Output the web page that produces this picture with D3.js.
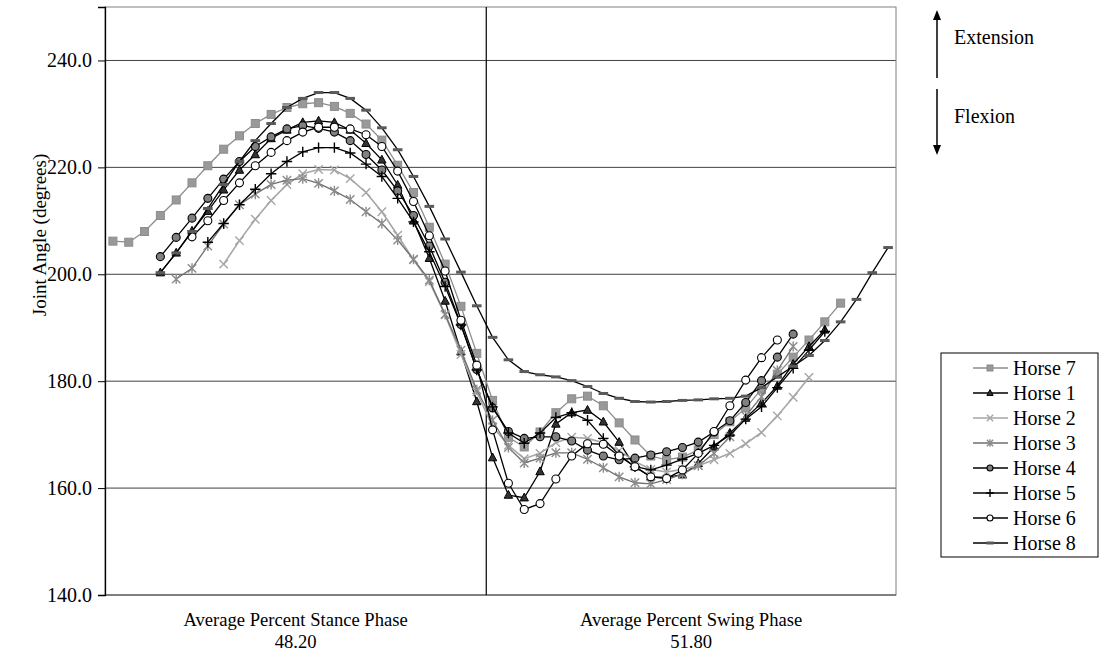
<!DOCTYPE html>
<html>
<head>
<meta charset="utf-8">
<script src="https://d3js.org/d3.v7.min.js"></script>
<style>
  body { margin: 0; background: #fff; }
  text { font-family: "Liberation Serif", "Times New Roman", serif; fill: #000; }
</style>
</head>
<body>
<svg id="chart" width="1099" height="658"></svg>
<script>
// x index i = 2% bin of the stride, point drawn at bin centre (2*i + 1 %)
var phaseLabels = ["Average Percent Stance Phase", "Average Percent Swing Phase"];
var phasePercents = ["48.20", "51.80"];
var stancePercent = 48.2;
var yTicks = [140, 160, 180, 200, 220, 240];
var horseNames = ["Horse 7", "Horse 1", "Horse 2", "Horse 3", "Horse 4", "Horse 5", "Horse 6", "Horse 8"];

var horse7 = [206.2, 206.0, 208.0, 211.0, 213.9, 217.1, 220.3, 223.4, 225.9, 228.2,
  229.9, 231.2, 231.9, 232.1, 231.4, 230.1, 228.1, 225.1, 220.4, 215.3,
  208.8, 201.9, 194.0, 185.2, 176.4, 169.5, 167.7, 170.5, 174.1, 176.7,
  177.2, 175.4, 172.2, 169.0, 166.0, 165.3, 165.8, 167.1, 170.0, 172.4,
  175.0, 178.5, 181.3, 184.5, 187.7, 191.1, 194.6];
var horse1 = [null, null, null, 200.3, 204.0, 208.1, 211.8, 215.8, 219.5, 222.4,
  225.4, 227.0, 228.4, 228.7, 228.4, 227.0, 224.5, 221.4, 216.7, 210.0,
  203.0, 195.0, 185.5, 176.2, 165.7, 158.7, 158.2, 163.1, 172.0, 174.1,
  174.6, 172.4, 168.6, 164.0, 162.1, 162.0, 162.5, 164.6, 167.7, 170.3,
  173.1, 175.9, 179.1, 183.2, 186.5, 189.6];
var horse2 = [null, null, null, null, null, null, null, 201.9, 206.3, 210.3,
  213.8, 216.8, 218.8, 219.6, 219.5, 217.9, 215.3, 211.7, 207.3, 202.7,
  198.6, 192.4, 185.0, 178.0, 171.5, 168.0, 165.5, 166.5, 168.5, 169.5,
  169.3, 168.5, 167.0, 165.0, 163.5, 163.0, 163.5, 164.2, 165.3, 166.5,
  168.3, 170.4, 173.5, 177.0, 180.7];
var horse3 = [null, null, null, null, 199.1, 201.1, 205.3, 209.4, 213.0, 215.0,
  216.8, 217.6, 217.9, 217.0, 215.6, 214.0, 211.7, 209.5, 206.4, 202.8,
  198.9, 192.5, 185.8, 178.4, 172.7, 167.6, 164.7, 165.6, 166.6, 166.6,
  165.4, 163.8, 162.1, 161.0, 160.8, 161.6, 162.6, 164.2, 166.5, 169.6,
  173.5, 177.1, 182.0, 186.5];
var horse4 = [null, null, null, 203.3, 206.9, 210.5, 214.2, 217.8, 221.1, 223.9,
  225.7, 227.2, 227.8, 227.3, 226.6, 225.0, 222.4, 219.5, 215.6, 211.0,
  205.3, 198.5, 190.6, 182.2, 175.0, 170.6, 169.3, 169.6, 169.6, 168.8,
  167.1, 166.0, 165.3, 165.6, 166.2, 166.8, 167.6, 168.6, 170.5, 172.6,
  176.0, 180.1, 184.5, 188.8];
var horse5 = [null, null, null, null, null, null, 206.0, 209.5, 213.0, 215.9,
  218.8, 221.1, 222.9, 223.7, 223.7, 222.7, 220.6, 218.3, 214.2, 209.8,
  204.2, 197.7, 190.5, 182.1, 175.2, 170.3, 168.4, 170.3, 173.2, 174.1,
  172.7, 169.3, 166.2, 164.0, 163.4, 164.3, 165.4, 166.5, 168.0, 169.9,
  172.9, 175.2, 178.8, 182.4, 185.8, 189.3];
var horse6 = [null, null, null, null, null, 207.0, 210.0, 213.8, 217.1, 220.3,
  222.8, 225.0, 226.6, 227.5, 227.5, 227.2, 226.1, 223.9, 219.3, 213.6,
  207.2, 200.6, 191.4, 183.0, 170.9, 160.9, 156.0, 157.1, 161.7, 166.0,
  168.3, 168.2, 166.0, 164.0, 162.1, 161.8, 163.4, 166.5, 170.6, 175.4,
  180.2, 184.4, 187.7];
var horse8 = [null, null, null, 200.3, 204.0, 208.0, 212.3, 216.8, 221.1, 225.0,
  228.2, 231.2, 232.9, 234.0, 234.0, 232.9, 230.7, 227.4, 223.3, 218.3,
  212.7, 206.6, 200.4, 194.1, 188.2, 184.0, 181.8, 181.2, 180.8, 180.1,
  179.0, 177.7, 176.8, 176.2, 176.1, 176.2, 176.4, 176.5, 176.7, 176.8,
  177.2, 178.8, 180.8, 182.8, 184.8, 187.6, 191.1, 195.3, 200.3, 205.0];

var seriesValues = [horse7, horse1, horse2, horse3, horse4, horse5, horse6, horse8];
var styles = [
  {line: "#8c8c8c", mark: "square", fill: "#999999", stroke: "#8c8c8c"},
  {line: "#000000", mark: "triangle", fill: "#333333", stroke: "#000000"},
  {line: "#a6a6a6", mark: "x", fill: "none", stroke: "#a6a6a6"},
  {line: "#6e6e6e", mark: "star", fill: "none", stroke: "#8c8c8c"},
  {line: "#000000", mark: "circle", fill: "#808080", stroke: "#000000"},
  {line: "#000000", mark: "plus", fill: "none", stroke: "#000000"},
  {line: "#000000", mark: "circle", fill: "#ffffff", stroke: "#000000"},
  {line: "#000000", mark: "dash", fill: "#5a5a5a", stroke: "#5a5a5a"}
];

var svg = d3.select("#chart");
var plotL = 105, plotR = 896, plotT = 7, plotB = 595;

var x = d3.scaleLinear().domain([0, 100]).range([plotL, plotR]);
var y = d3.scaleLinear().domain([140, 250]).range([plotB, plotT]);

// grid
svg.append("g").selectAll("line").data(yTicks.slice(1)).enter().append("line")
  .attr("x1", plotL).attr("x2", plotR)
  .attr("y1", function(d) { return y(d); }).attr("y2", function(d) { return y(d); })
  .style("stroke", "#404040").style("stroke-width", 1);

svg.append("rect").attr("x", plotL).attr("y", plotT).attr("width", plotR - plotL).attr("height", plotB - plotT)
  .style("fill", "none").style("stroke", "#808080").style("stroke-width", 1);

svg.append("line").attr("x1", plotL).attr("x2", plotR).attr("y1", plotB).attr("y2", plotB)
  .style("stroke", "#404040").style("stroke-width", 1);

// phase divider
svg.append("line").attr("x1", x(stancePercent)).attr("x2", x(stancePercent))
  .attr("y1", plotT).attr("y2", plotB).style("stroke", "#000").style("stroke-width", 1.2);

// y axis
var yAxis = d3.axisLeft(y).tickValues(yTicks).tickSize(7).tickPadding(6).tickFormat(d3.format(".1f"));
var ga = svg.append("g").attr("transform", "translate(" + plotL + ",0)").call(yAxis);
ga.select(".domain").style("stroke", "#000").style("stroke-width", 1.3);
ga.selectAll(".tick line").style("stroke", "#000");
ga.selectAll("text").style("font-size", "20px").style("font-family", "Liberation Serif, serif");

svg.append("text")
  .attr("transform", "translate(39,235) rotate(-90)")
  .attr("text-anchor", "middle").attr("dy", "0.35em")
  .style("font-size", "19px")
  .text("Joint Angle (degrees)");

// phase labels
var phaseMid = [stancePercent / 2, stancePercent + (100 - stancePercent) / 2];
phaseLabels.forEach(function(lbl, k) {
  svg.append("text").attr("x", x(phaseMid[k])).attr("y", 626).attr("text-anchor", "middle")
    .style("font-size", "18.6px").text(lbl);
  svg.append("text").attr("x", x(phaseMid[k])).attr("y", 648).attr("text-anchor", "middle")
    .style("font-size", "18.6px").text(phasePercents[k]);
});

function drawMark(g, type, cx, cy, s, st) {
  if (type == "square") {
    g.append("rect").attr("x", cx - s).attr("y", cy - s).attr("width", 2 * s).attr("height", 2 * s)
      .style("fill", st.fill).style("stroke", st.stroke).style("stroke-width", 1);
  } else if (type == "triangle") {
    g.append("path").attr("d", "M" + cx + "," + (cy - s * 1.15) + "L" + (cx + s * 1.05) + "," + (cy + s * 0.8) +
      "L" + (cx - s * 1.05) + "," + (cy + s * 0.8) + "Z")
      .style("fill", st.fill).style("stroke", st.stroke).style("stroke-width", 1);
  } else if (type == "circle") {
    g.append("circle").attr("cx", cx).attr("cy", cy).attr("r", s)
      .style("fill", st.fill).style("stroke", st.stroke).style("stroke-width", 1.1);
  } else if (type == "x" || type == "star") {
    var a = s * 1.05;
    var d = "M" + (cx - a) + "," + (cy - a) + "L" + (cx + a) + "," + (cy + a) +
      "M" + (cx - a) + "," + (cy + a) + "L" + (cx + a) + "," + (cy - a);
    if (type == "star") d += "M" + cx + "," + (cy - a * 1.2) + "L" + cx + "," + (cy + a * 1.2);
    g.append("path").attr("d", d).style("fill", "none").style("stroke", st.stroke).style("stroke-width", 1.4);
  } else if (type == "plus") {
    var b = s * 1.3;
    g.append("path").attr("d", "M" + (cx - b) + "," + cy + "L" + (cx + b) + "," + cy +
      "M" + cx + "," + (cy - b) + "L" + cx + "," + (cy + b))
      .style("fill", "none").style("stroke", st.stroke).style("stroke-width", 1.4);
  } else if (type == "dash") {
    g.append("rect").attr("x", cx - s * 1.2).attr("y", cy - 1.5).attr("width", s * 2.4).attr("height", 3)
      .style("fill", st.fill).style("stroke", "none");
  }
}

var line = d3.line()
  .defined(function(d) { return d != null; })
  .x(function(d, i) { return x(2 * i + 1); })
  .y(function(d) { return y(d); });

seriesValues.forEach(function(vals, k) {
  var st = styles[k];
  var g = svg.append("g");
  g.append("path").datum(vals).attr("d", line)
    .style("fill", "none").style("stroke", st.line).style("stroke-width", k == 2 ? 1.6 : 1.3);
  vals.forEach(function(v, i) {
    if (v == null) return;
    drawMark(g, st.mark, x(2 * i + 1), y(v), 4, st);
  });
});

// legend
var lg = svg.append("g");
lg.append("rect").attr("x", 941).attr("y", 353).attr("width", 157).attr("height", 204)
  .style("fill", "#fff").style("stroke", "#000").style("stroke-width", 1);
horseNames.forEach(function(name, k) {
  var ly = 368 + k * 25;
  var st = styles[k];
  lg.append("line").attr("x1", 973).attr("x2", 1008).attr("y1", ly).attr("y2", ly)
    .style("stroke", st.line).style("stroke-width", 1.3);
  drawMark(lg, st.mark, 990, ly, 3, st);
  lg.append("text").attr("x", 1013).attr("y", ly).attr("dy", "0.35em")
    .style("font-size", "20px").text(name);
});

// extension / flexion arrows
var ax = 937;
svg.append("line").attr("x1", ax).attr("x2", ax).attr("y1", 78).attr("y2", 18).style("stroke", "#000").style("stroke-width", 1.5);
svg.append("path").attr("d", "M" + ax + ",10L" + (ax + 4) + ",20L" + (ax - 4) + ",20Z").style("fill", "#000");
svg.append("line").attr("x1", ax).attr("x2", ax).attr("y1", 89).attr("y2", 147).style("stroke", "#000").style("stroke-width", 1.5);
svg.append("path").attr("d", "M" + ax + ",155L" + (ax + 4) + ",145L" + (ax - 4) + ",145Z").style("fill", "#000");
svg.append("text").attr("x", 954).attr("y", 37).attr("dy", "0.35em").style("font-size", "20px").text("Extension");
svg.append("text").attr("x", 954).attr("y", 116).attr("dy", "0.35em").style("font-size", "20px").text("Flexion");
</script>
</body>
</html>
